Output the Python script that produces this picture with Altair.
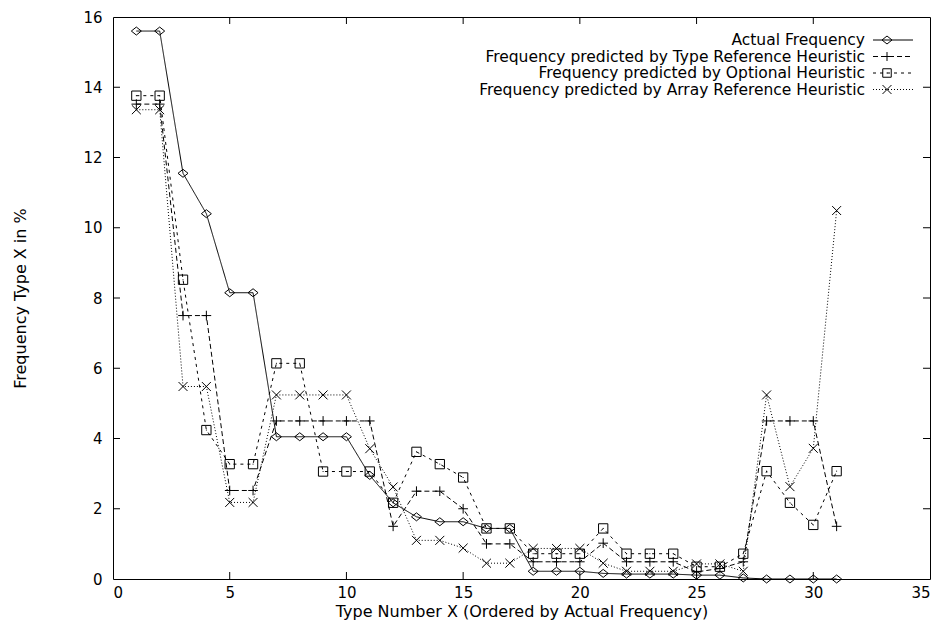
import altair as alt
import pandas as pd

# ---------------- data ----------------
x_vals = list(range(1, 32))

series_names = [
    "Actual Frequency",
    "Frequency predicted by Type Reference Heuristic",
    "Frequency predicted by Optional Heuristic",
    "Frequency predicted by Array Reference Heuristic",
]

actual = [15.6, 15.6, 11.55, 10.4, 8.15, 8.15, 4.05, 4.05, 4.05, 4.05, 2.95,
          2.17, 1.77, 1.63, 1.63, 1.44, 1.44, 0.22, 0.22, 0.22, 0.16, 0.14,
          0.14, 0.14, 0.11, 0.11, 0.03, 0.0, 0.0, 0.0, 0.0]
type_ref = [13.52, 13.52, 7.5, 7.5, 2.52, 2.52, 4.5, 4.5, 4.5, 4.5, 4.5,
            1.5, 2.5, 2.5, 2.0, 1.0, 1.0, 0.49, 0.49, 0.49, 1.02, 0.49,
            0.49, 0.49, 0.2, 0.3, 0.49, 4.5, 4.5, 4.5, 1.5]
optional = [13.76, 13.76, 8.52, 4.24, 3.27, 3.27, 6.14, 6.14, 3.06, 3.06, 3.06,
            2.17, 3.62, 3.27, 2.89, 1.44, 1.44, 0.72, 0.72, 0.72, 1.44, 0.72,
            0.72, 0.72, 0.35, 0.35, 0.72, 3.07, 2.17, 1.54, 3.07]
array_ref = [13.36, 13.36, 5.48, 5.48, 2.18, 2.18, 5.24, 5.24, 5.24, 5.24, 3.71,
             2.62, 1.1, 1.1, 0.88, 0.45, 0.45, 0.87, 0.87, 0.87, 0.45, 0.22,
             0.22, 0.22, 0.43, 0.43, 0.22, 5.24, 2.63, 3.72, 10.49]

x_ticks = [0, 5, 10, 15, 20, 25, 30, 35]
y_ticks = [0, 2, 4, 6, 8, 10, 12, 14, 16]

# ---------------- styling ----------------
W, H = 817, 562
FONT = "DejaVu Sans"
FS = 16      # axis titles
TFS = 15     # tick labels
LFS = 15.5   # key text

dash_range = [[1, 0], [5, 3], [3, 4], [1, 2]]
shape_range = [
    "M0,-0.8L1,0L0,0.8L-1,0Z",                      # diamond
    "M-1,0L1,0M0,-1L0,1",                           # plus
    "M-1,-1L1,-1L1,1L-1,1ZM-0.1,0L0.1,0",           # box
    "M-1,-1L1,1M-1,1L1,-1",                         # x
]
size_range = [100, 80, 72, 80]

rows = []
for name, vals in zip(series_names, [actual, type_ref, optional, array_ref]):
    for xv, yv in zip(x_vals, vals):
        rows.append({"series": name, "x": xv, "y": yv})
df = pd.DataFrame(rows)

xscale = alt.Scale(domain=[0, 35], nice=False, zero=False)
yscale = alt.Scale(domain=[0, 16], nice=False)

x_axis = alt.Axis(values=x_ticks, title="Type Number X (Ordered by Actual Frequency)",
                  ticks=False, domain=False, grid=False, labelPadding=6,
                  titleX=W / 2, titleY=37.5, titleBaseline="alphabetic")
y_axis = alt.Axis(values=y_ticks, title="Frequency Type X in %",
                  ticks=False, domain=False, grid=False, labelPadding=11,
                  titleX=-88, titleY=H / 2, titleBaseline="alphabetic")

dash_enc = alt.StrokeDash("series:N", scale=alt.Scale(domain=series_names, range=dash_range), legend=None)
shape_enc = alt.Shape("series:N", scale=alt.Scale(domain=series_names, range=shape_range), legend=None)
size_enc = alt.Size("series:N", scale=alt.Scale(domain=series_names, range=size_range), legend=None)

base = alt.Chart(df).encode(
    x=alt.X("x:Q", scale=xscale, axis=x_axis),
    y=alt.Y("y:Q", scale=yscale, axis=y_axis),
)

lines = base.mark_line(color="black", strokeWidth=1).encode(
    strokeDash=dash_enc, detail="series:N", order="x:Q"
)
points = base.mark_point(filled=False, color="black", strokeWidth=1, opacity=1).encode(
    shape=shape_enc, size=size_enc
)

# inward tick marks on all four sides (gnuplot style)
xt = pd.DataFrame({"x": x_ticks[1:-1]})
yt = pd.DataFrame({"y": y_ticks[1:-1]})
TL = 7
tick_b = alt.Chart(xt).mark_rule(color="black", strokeWidth=1).encode(
    x=alt.X("x:Q", scale=xscale, axis=x_axis), y=alt.value(H), y2=alt.value(H - TL))
tick_t = alt.Chart(xt).mark_rule(color="black", strokeWidth=1).encode(
    x=alt.X("x:Q", scale=xscale, axis=x_axis), y=alt.value(0), y2=alt.value(TL))
tick_l = alt.Chart(yt).mark_rule(color="black", strokeWidth=1).encode(
    y=alt.Y("y:Q", scale=yscale, axis=y_axis), x=alt.value(0), x2=alt.value(TL))
tick_r = alt.Chart(yt).mark_rule(color="black", strokeWidth=1).encode(
    y=alt.Y("y:Q", scale=yscale, axis=y_axis), x=alt.value(W), x2=alt.value(W - TL))

# gnuplot-style key: right-aligned text, sample to the right
legend_layers = []
for i, name in enumerate(series_names):
    ly = 23 + 16.5 * i
    ldf = pd.DataFrame({"name": [name]})
    legend_layers.append(
        alt.Chart(ldf).mark_text(align="right", baseline="middle", font=FONT,
                                 fontSize=LFS, color="black").encode(
            x=alt.value(752), y=alt.value(ly), text="name:N"))
    legend_layers.append(
        alt.Chart(ldf).mark_rule(color="black", strokeWidth=1,
                                 strokeDash=dash_range[i]).encode(
            x=alt.value(760), x2=alt.value(800), y=alt.value(ly)))
    legend_layers.append(
        alt.Chart(ldf).mark_point(shape=shape_range[i], size=size_range[i],
                                  filled=False, color="black", strokeWidth=1,
                                  opacity=1).encode(
            x=alt.value(774), y=alt.value(ly)))

chart = alt.layer(lines, points, tick_b, tick_t, tick_l, tick_r, *legend_layers).properties(
    width=W, height=H,
    autosize=alt.AutoSizeParams(type="none"),
    padding={"left": 105, "top": 9, "right": 4, "bottom": 48},
    background="white",
).configure_view(
    stroke="black", strokeWidth=1
).configure_axis(
    labelFont=FONT, titleFont=FONT, labelFontSize=TFS, titleFontSize=FS,
    labelColor="black", titleColor="black", titleFontWeight="normal",
)

chart.save("out.html", embed_options={"renderer": "svg", "actions": False})
